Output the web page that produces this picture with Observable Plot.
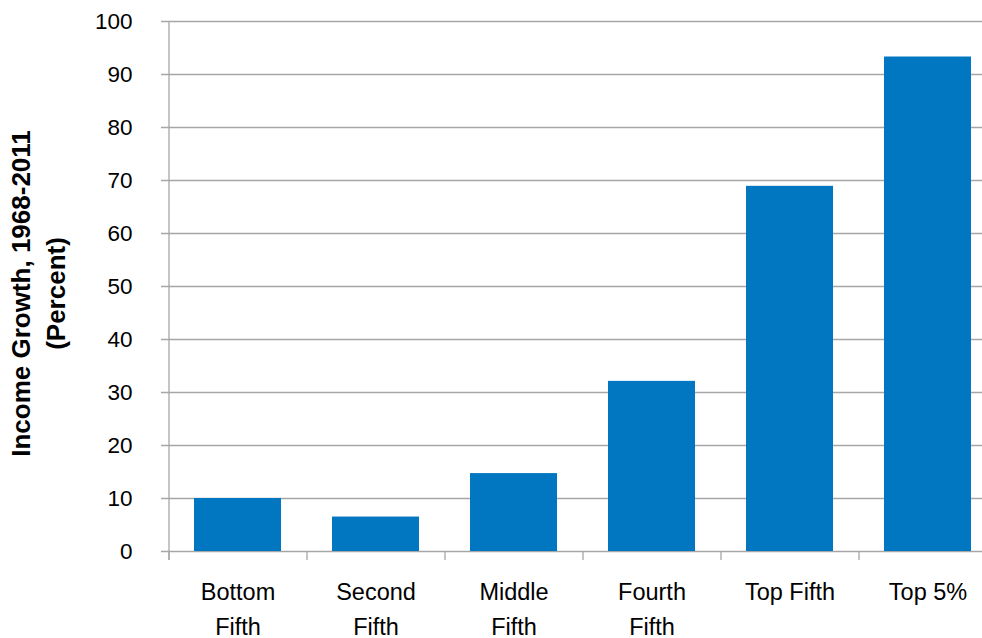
<!DOCTYPE html>
<html>
<head>
<meta charset="utf-8">
<script src="https://cdn.jsdelivr.net/npm/d3@7"></script>
<script src="https://cdn.jsdelivr.net/npm/@observablehq/plot@0.6"></script>
<style>
  html, body { margin: 0; padding: 0; background: #fff; overflow: hidden; }
  #chart svg { display: block; font-family: "Liberation Sans", Arial, sans-serif; }
</style>
</head>
<body>
<div id="chart"></div>
<script>
const categories = ["Bottom Fifth", "Second Fifth", "Middle Fifth", "Fourth Fifth", "Top Fifth", "Top 5%"];
const categoryLabels = ["Bottom\nFifth", "Second\nFifth", "Middle\nFifth", "Fourth\nFifth", "Top Fifth", "Top 5%"];
const growth = [10.0, 6.5, 14.7, 32.1, 68.9, 93.3];
const yTicks = [0, 10, 20, 30, 40, 50, 60, 70, 80, 90, 100];
const yTitle = "Income Growth, 1968-2011\n(Percent)";

const data = categories.map((c, i) => ({category: c, label: categoryLabels[i], value: growth[i]}));

const width = 982, height = 638;
const marginLeft = 169, marginRight = -15, marginTop = 21, marginBottom = 87;
const paddingInner = 0.367, paddingOuter = 0.1835;
const step = (width - marginLeft - marginRight) / (categories.length - paddingInner + 2 * paddingOuter);

const chart = Plot.plot({
  width, height, marginLeft, marginRight, marginTop, marginBottom,
  style: {fontFamily: "Liberation Sans, Arial, sans-serif", fontSize: "22.5px", color: "#000", background: "#fff"},
  x: {domain: categories, paddingInner, paddingOuter, axis: null},
  y: {domain: [0, 100], ticks: yTicks, tickSize: 8, tickPadding: 29, label: null},
  marks: [
    Plot.gridY(yTicks, {stroke: "#a6a6a6", strokeOpacity: 1, strokeWidth: 1.3, insetLeft: -8}),
    Plot.barY(data, {x: "category", y: "value", fill: "#0077c0"}),
    Plot.ruleX(data, {x: "category", dx: -step / 2, y1: 0, y2: 0, insetBottom: -9, stroke: "#a6a6a6", strokeWidth: 1.3}),
    Plot.ruleX([data[0]], {x: "category", dx: -step / 2, y1: 100, y2: 0, insetBottom: -9, stroke: "#a6a6a6", strokeWidth: 1.3}),
    Plot.text(data, {x: "category", y: 0, text: "label", dy: 24, lineAnchor: "top", lineHeight: 1.47, fontSize: 23.5, fill: "#000"}),
    Plot.text([yTitle], {frameAnchor: "left", textAnchor: "middle", dx: 36 - marginLeft, dy: 7, rotate: -90, lineHeight: 1.35, fontSize: 26, fontWeight: "bold", fill: "#000"})
  ]
});
document.getElementById("chart").appendChild(chart);
</script>
</body>
</html>
